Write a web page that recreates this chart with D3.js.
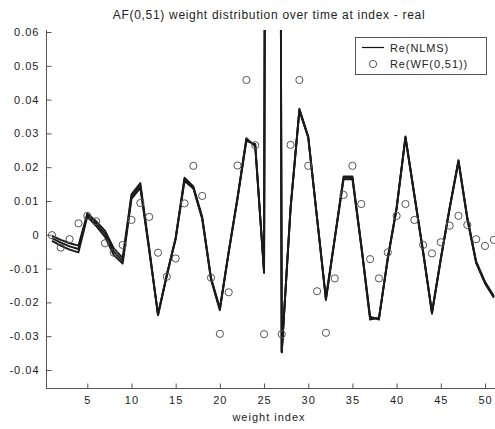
<!DOCTYPE html>
<html>
<head>
<meta charset="utf-8">
<script src="https://cdn.jsdelivr.net/npm/d3@7"></script>
<style>
  html, body { margin: 0; padding: 0; background: #fff; }
  svg { display: block; }
  text { font-family: "Liberation Sans", Arial, Helvetica, sans-serif; fill: #222; }
</style>
</head>
<body>
<svg id="chart" width="495" height="429"></svg>
<script>
// Weight indices 1..51
const weightIndex = d3.range(1, 52);

// NLMS weights (real part) at three adaptation snapshots; tap 26 is the main tap
const nlmsEarly = [
  -0.0003, -0.0015, -0.0025, -0.0032, 0.0063, 0.0040, 0.0012, -0.0040, -0.0068, 0.0120,
  0.0153, -0.0038, -0.0238, -0.0121, -0.0008, 0.0169, 0.0143, 0.0053, -0.0127, -0.0217,
  -0.0049, 0.0111, 0.0286, 0.0261, -0.0107, 1.0, -0.0348, 0.0081, 0.0373, 0.0291,
  0.0051, -0.0187, -0.0009, 0.0173, 0.0173, -0.0029, -0.0242, -0.0251, -0.0067, 0.0081,
  0.0291, 0.0121, -0.0049, -0.0229, -0.0069, 0.0081, 0.0221, 0.0051, -0.0079, -0.0139,
  -0.0181
];
const nlmsMid = [
  -0.0010, -0.0023, -0.0034, -0.0042, 0.0058, 0.0033, 0.0003, -0.0050, -0.0077, 0.0113,
  0.0146, -0.0042, -0.0237, -0.0119, -0.0010, 0.0164, 0.0140, 0.0050, -0.0130, -0.0220,
  -0.0051, 0.0109, 0.0282, 0.0265, -0.0110, 1.0, -0.0347, 0.0079, 0.0370, 0.0289,
  0.0049, -0.0190, -0.0011, 0.0169, 0.0169, -0.0032, -0.0247, -0.0248, -0.0070, 0.0079,
  0.0289, 0.0119, -0.0051, -0.0231, -0.0071, 0.0079, 0.0219, 0.0049, -0.0081, -0.0141,
  -0.0183
];
const nlmsFinal = [
  -0.0018, -0.0032, -0.0044, -0.0052, 0.0054, 0.0026, -0.0006, -0.0060, -0.0085, 0.0106,
  0.0139, -0.0046, -0.0235, -0.0117, -0.0013, 0.0159, 0.0137, 0.0047, -0.0133, -0.0223,
  -0.0053, 0.0107, 0.0277, 0.0269, -0.0113, 1.0, -0.0345, 0.0077, 0.0367, 0.0287,
  0.0047, -0.0193, -0.0013, 0.0164, 0.0165, -0.0035, -0.0251, -0.0245, -0.0073, 0.0077,
  0.0287, 0.0117, -0.0053, -0.0234, -0.0073, 0.0077, 0.0216, 0.0046, -0.0084, -0.0144,
  -0.0186
];

// Wiener filter WF(0,51) weights (real part)
const wfWeights = [
  -0.0001, -0.0038, -0.0013, 0.0034, 0.0056, 0.0040, -0.0025, -0.0053, -0.0030, 0.0044,
  0.0094, 0.0053, -0.0053, -0.0124, -0.0070, 0.0093, 0.0204, 0.0115, -0.0127, -0.0293,
  -0.0170, 0.0205, 0.0458, 0.0265, -0.0294, 1.0, -0.0294, 0.0266, 0.0458, 0.0204,
  -0.0167, -0.0290, -0.0129, 0.0118, 0.0204, 0.0091, -0.0072, -0.0129, -0.0052, 0.0056,
  0.0091, 0.0044, -0.0030, -0.0055, -0.0022, 0.0027, 0.0056, 0.0029, -0.0013, -0.0033,
  -0.0015
];

const xTicks = [5, 10, 15, 20, 25, 30, 35, 40, 45, 50];
const yTicks = [-0.04, -0.03, -0.02, -0.01, 0, 0.01, 0.02, 0.03, 0.04, 0.05, 0.06];

const titleText = "AF(0,51) weight distribution over time at index - real";
const xLabel = "weight index";
const legendLabels = ["Re(NLMS)", "Re(WF(0,51))"];

// Plot area
const plot = { left: 46, right: 495, top: 30, bottom: 388 };

const x = d3.scaleLinear().domain([5, 50]).range([87.3, 485]);
const y = d3.scaleLinear().domain([-0.04, 0.06]).range([370, 32]);

const svg = d3.select("#chart");

svg.append("defs").append("clipPath").attr("id", "plotClip")
  .append("rect")
  .attr("x", plot.left).attr("y", plot.top)
  .attr("width", plot.right - plot.left).attr("height", plot.bottom - plot.top);

const labelFont = "'Liberation Sans', Arial, sans-serif";

// Title
svg.append("text")
  .attr("x", 269).attr("y", 19)
  .attr("text-anchor", "middle")
  .style("font-size", "12px")
  .style("letter-spacing", "0.7px")
  .text(titleText);

const axisColor = "#555";

// Y axis (ticks point inward)
const yAxis = d3.axisLeft(y)
  .tickValues(yTicks)
  .tickSizeInner(-5).tickSizeOuter(0).tickPadding(7)
  .tickFormat(v => Math.abs(v) < 1e-9 ? "0" : v.toFixed(2));
const gy = svg.append("g").attr("transform", `translate(${plot.left + 0.5},0)`).call(yAxis);
gy.select(".domain").remove();
gy.selectAll(".tick line").attr("stroke", axisColor);
gy.selectAll(".tick text").style("font-size", "11px").style("letter-spacing", "1px")
  .attr("fill", "#333").style("font-family", labelFont);

// X axis (ticks point inward)
const xAxis = d3.axisBottom(x)
  .tickValues(xTicks)
  .tickSizeInner(-5).tickSizeOuter(0).tickPadding(8)
  .tickFormat(d3.format("d"));
const gx = svg.append("g").attr("transform", `translate(0,${plot.bottom + 0.5})`).call(xAxis);
gx.select(".domain").remove();
gx.selectAll(".tick line").attr("stroke", axisColor);
gx.selectAll(".tick text").style("font-size", "11px").style("letter-spacing", "1px")
  .attr("fill", "#333").style("font-family", labelFont);

// Axis lines (left and bottom only)
svg.append("line")
  .attr("x1", plot.left + 0.5).attr("x2", plot.left + 0.5)
  .attr("y1", plot.top).attr("y2", plot.bottom + 0.5)
  .attr("stroke", axisColor);
svg.append("line")
  .attr("x1", plot.left).attr("x2", plot.right)
  .attr("y1", plot.bottom + 0.5).attr("y2", plot.bottom + 0.5)
  .attr("stroke", axisColor);

// X label
svg.append("text")
  .attr("x", 269).attr("y", 421)
  .attr("text-anchor", "middle")
  .style("font-size", "11px")
  .style("letter-spacing", "1px")
  .text(xLabel);

const layer = svg.append("g").attr("clip-path", "url(#plotClip)");

// NLMS weight traces
const line = d3.line().x((d, i) => x(weightIndex[i])).y(d => y(d));
[nlmsEarly, nlmsMid, nlmsFinal].forEach(series => {
  layer.append("path")
    .datum(series)
    .attr("d", line)
    .attr("fill", "none")
    .attr("stroke", "#1a1a1a")
    .attr("stroke-width", 1.9)
    .attr("stroke-linejoin", "round");
});

// Wiener filter weights as open circles
layer.selectAll("circle.wf")
  .data(wfWeights)
  .join("circle")
  .attr("class", "wf")
  .attr("cx", (d, i) => x(weightIndex[i]))
  .attr("cy", d => y(d))
  .attr("r", 3.6)
  .attr("fill", "none")
  .attr("stroke", "#555")
  .attr("stroke-width", 1);

// Legend
const lg = svg.append("g");
lg.append("rect")
  .attr("x", 355.5).attr("y", 37.5).attr("width", 131).attr("height", 37)
  .attr("fill", "#fff").attr("stroke", "#555");
lg.append("line")
  .attr("x1", 362).attr("x2", 384).attr("y1", 47.5).attr("y2", 47.5)
  .attr("stroke", "#111").attr("stroke-width", 1.2);
lg.append("circle")
  .attr("cx", 373).attr("cy", 64).attr("r", 3.6)
  .attr("fill", "none").attr("stroke", "#555");
lg.selectAll("text.lab")
  .data(legendLabels)
  .join("text")
  .attr("class", "lab")
  .attr("x", 390)
  .attr("y", (d, i) => 51.5 + i * 16.5)
  .style("font-size", "11px")
  .style("letter-spacing", "0.9px")
  .text(d => d);
</script>
</body>
</html>
